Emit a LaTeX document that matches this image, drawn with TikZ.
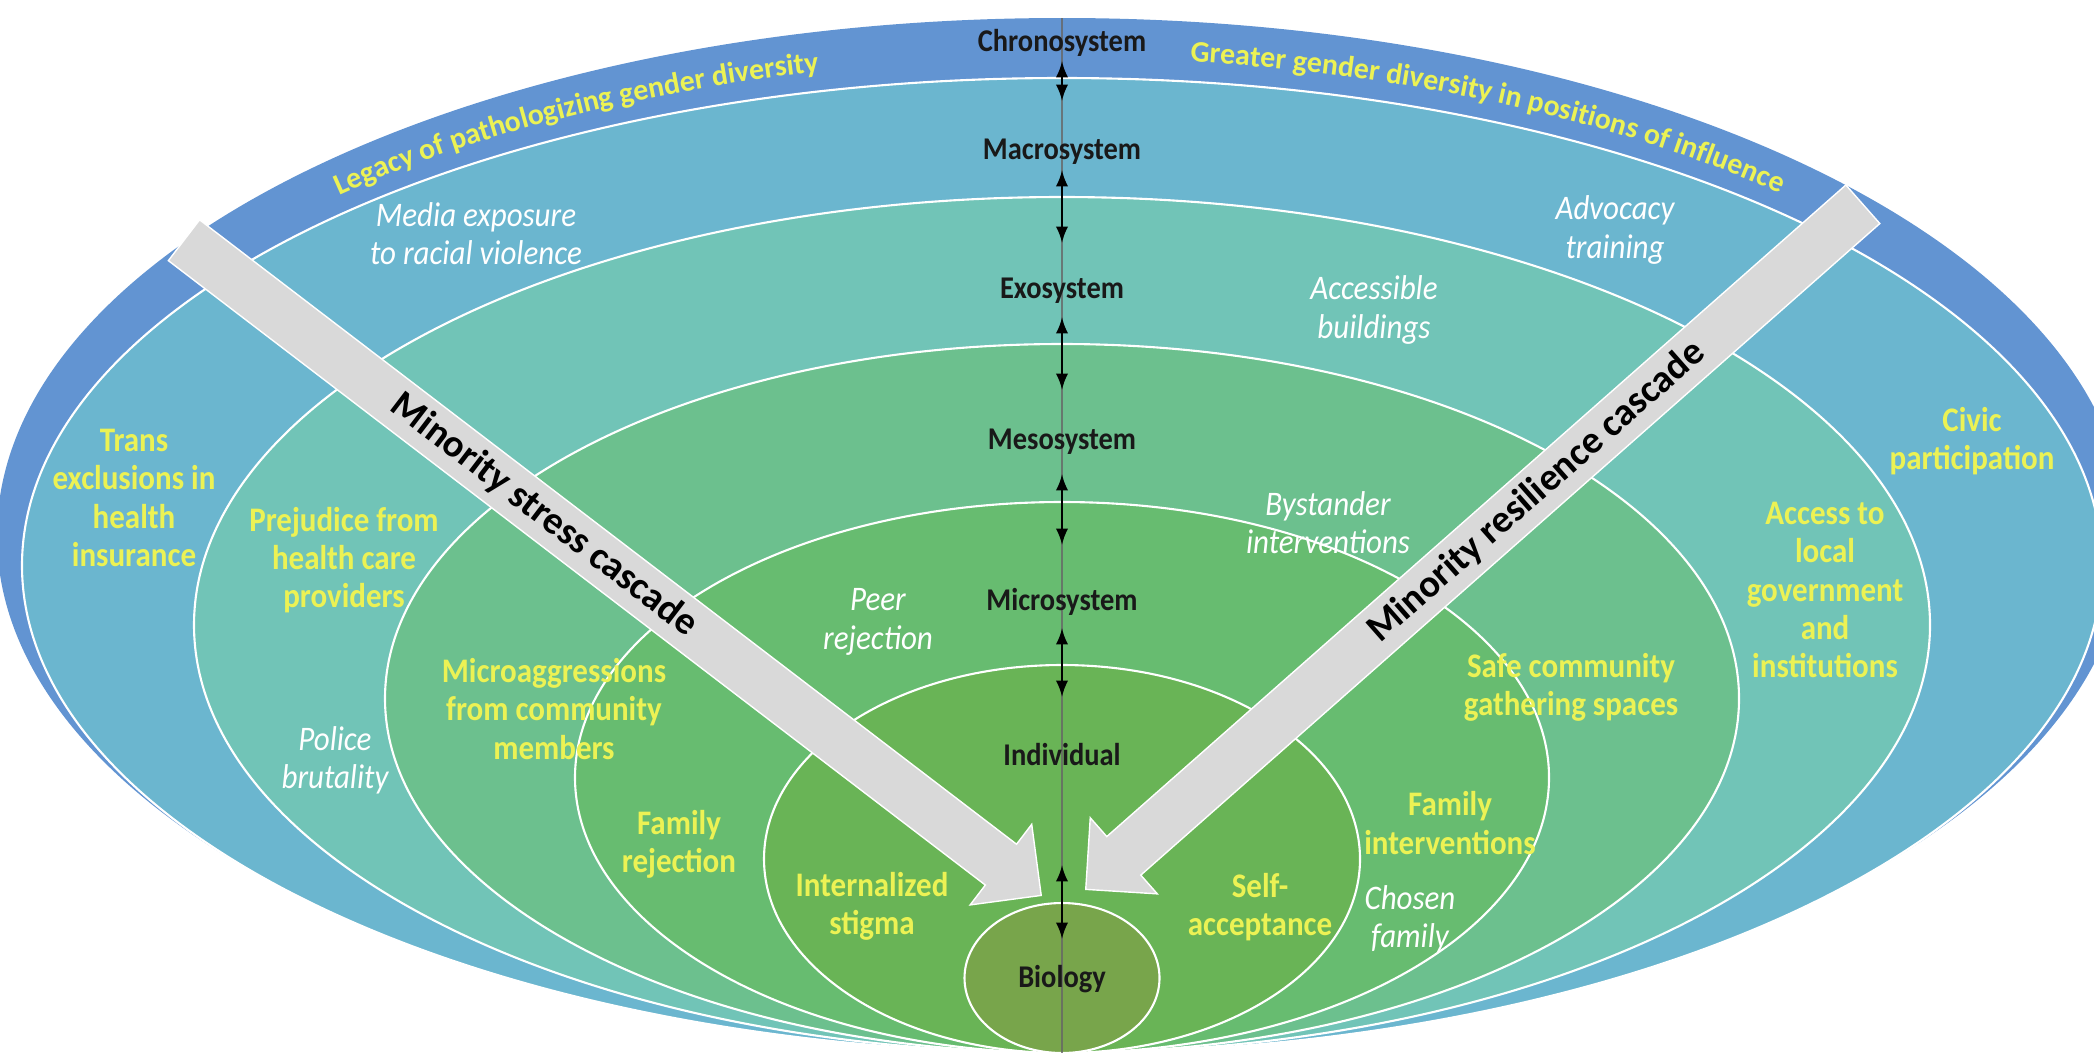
\documentclass[tikz,border=0pt]{standalone}
\usepackage{fontspec}
\setmainfont{Carlito}
\usetikzlibrary{shapes.arrows, decorations.text}
\definecolor{CChrono}{RGB}{98,148,210}
\definecolor{CMacro}{RGB}{107,182,207}
\definecolor{CExo}{RGB}{113,196,183}
\definecolor{CMeso}{RGB}{108,192,142}
\definecolor{CMicro}{RGB}{103,188,112}
\definecolor{CIndiv}{RGB}{105,180,86}
\definecolor{CBio}{RGB}{120,165,75}
\definecolor{CYellow}{RGB}{236,242,84}
\definecolor{CCascade}{RGB}{217,217,217}
\newcommand{\arcfont}{\bfseries\fontsize{8.5}{10}\selectfont}

\begin{document}
\begin{tikzpicture}[
    ring/.style={draw=white, line width=0.6pt},
    system/.style={font=\bfseries\fontsize{9}{10}\selectfont, text=black!90, xscale=0.9,
                   inner sep=0pt, text height=6.5pt, text depth=1.8pt},
    factor/.style={font=\bfseries\fontsize{9.8}{10.9}\selectfont, text=CYellow, align=center, xscale=0.9},
    example/.style={font=\itshape\fontsize{9.8}{10.9}\selectfont, text=white, align=center, xscale=0.9},
    updown/.style={<->, >=latex, semithick, black},
    cascade/.style={single arrow, single arrow head extend=0.25cm, single arrow tip angle=90,
                    fill=CCascade, draw=white, line width=0.4pt, inner xsep=0pt, inner ysep=0.11cm,
                    text height=0.22cm, text depth=0.06cm},
    cascadetext/.style={font=\bfseries\fontsize{11}{13}\selectfont, text=black, inner sep=0pt}
]
    \useasboundingbox (0, 0) rectangle (20.94, 10.58);
    \clip (0, 0) rectangle (20.94, 10.58);

    % nested systems, all touching at the bottom
    \fill [CChrono] (10.62, 5.225) ellipse [x radius=10.65, y radius=5.175];
    \filldraw [ring, fill=CMacro] (10.62, 4.925) ellipse [x radius=10.40, y radius=4.875];
    \filldraw [ring, fill=CExo]   (10.62, 4.330) ellipse [x radius=8.68, y radius=4.280];
    \filldraw [ring, fill=CMeso]  (10.62, 3.595) ellipse [x radius=6.77, y radius=3.545];
    \filldraw [ring, fill=CMicro] (10.62, 2.805) ellipse [x radius=4.87, y radius=2.755];
    \filldraw [ring, fill=CIndiv] (10.62, 1.990) ellipse [x radius=2.98, y radius=1.940];
    \filldraw [ring, fill=CBio]   (10.62, 0.800) ellipse [x radius=0.975, y radius=0.750];

    \coordinate (axisTop) at (10.62, 10.40);
    \coordinate (axisBottom) at (10.62, 0.05);
    \draw [black!60, line width=0.5pt, opacity=0.8] (axisTop) -- (axisBottom);

    % cascades
    \node [cascade, rotate=-37.39, minimum height=10.79cm, anchor=tip] (stress) at (10.42, 1.62) {};
    \node [cascade, rotate=221.4, minimum height=10.36cm, anchor=tip] (resilience) at (10.85, 1.68) {};
    \path (stress.tail) -- (stress.tip) node [cascadetext, pos=0.42, sloped] {Minority stress cascade};
    \path (resilience.tip) -- (resilience.tail) node [cascadetext, pos=0.58, sloped] {Minority resilience cascade};

    % chronosystem
    \path [decorate, decoration={text along path, text align=left, text color=CYellow,
           text={|\arcfont|Legacy of pathologizing gender diversity}}]
        (10.62, 5.0) ++(133.5:10.5 and 5.0) arc [start angle=133.5, end angle=80, x radius=10.5, y radius=5.0];
    \path [decorate, decoration={text along path, text align=left, text color=CYellow,
           text={|\arcfont|Greater gender diversity in positions of influence}}]
        (10.62, 5.0) ++(83:10.5 and 5.0) arc [start angle=83, end angle=20, x radius=10.5, y radius=5.0];

    % system names
    \node [system] (chrono) at (10.62, 10.15) {Chronosystem};
    \node [system] (macro)  at (10.62, 9.07) {Macrosystem};
    \node [system] (exo)    at (10.62, 7.68) {Exosystem};
    \node [system] (meso)   at (10.62, 6.17) {Mesosystem};
    \node [system] (micro)  at (10.62, 4.56) {Microsystem};
    \node [system] (indiv)  at (10.62, 3.01) {Individual};
    \node [system] (bio)    at (10.62, 0.79) {Biology};

    \draw [updown, shorten <=0.03cm, shorten >=0.35cm] (chrono) -- (macro);
    \draw [updown, shorten <=0.04cm, shorten >=0.32cm] (macro) -- (exo);
    \draw [updown, shorten <=0.12cm, shorten >=0.36cm] (exo) -- (meso);
    \draw [updown, shorten <=0.18cm, shorten >=0.42cm] (meso) -- (micro);
    \draw [updown, shorten <=0.11cm, shorten >=0.45cm] (micro) -- (indiv);
    \draw [updown, shorten <=0.93cm, shorten >=0.25cm] (indiv) -- (bio);

    % macrosystem
    \node [example] (media)    at (4.76, 8.24) {Media exposure\\to racial violence};
    \node [example] (advocacy) at (16.15, 8.28) {Advocacy\\training};
    \node [factor]  (trans)    at (1.34, 5.60) {Trans\\exclusions in\\health\\insurance};
    \node [factor]  (civic)    at (19.72, 6.17) {Civic\\participation};

    % exosystem
    \node [example] (building) at (13.74, 7.48) {Accessible\\buildings};
    \node [factor]  (prejud)   at (3.44, 4.98) {Prejudice from\\health care\\providers};
    \node [example] (police)   at (3.35, 2.98) {Police\\brutality};
    \node [factor]  (access)   at (18.25, 4.68) {Access to\\local\\government\\and\\institutions};

    % mesosystem
    \node [example] (bystand)  at (13.28, 5.35) {Bystander\\interventions};
    \node [factor]  (microagg) at (5.54, 3.49) {Microaggressions\\from community\\members};
    \node [factor]  (safe)     at (15.71, 3.71) {Safe community\\gathering spaces};

    % microsystem
    \node [example] (peer)     at (8.78, 4.36) {Peer\\rejection};
    \node [factor]  (famrej)   at (6.79, 2.14) {Family\\rejection};
    \node [factor]  (famint)   at (14.50, 2.35) {Family\\interventions};
    \node [example] (chosen)   at (14.10, 1.39) {Chosen\\family};

    % individual
    \node [factor]  (stigma)   at (8.72, 1.52) {Internalized\\stigma};
    \node [factor]  (selfacc)  at (12.60, 1.51) {Self-\\acceptance};
\end{tikzpicture}
\end{document}
